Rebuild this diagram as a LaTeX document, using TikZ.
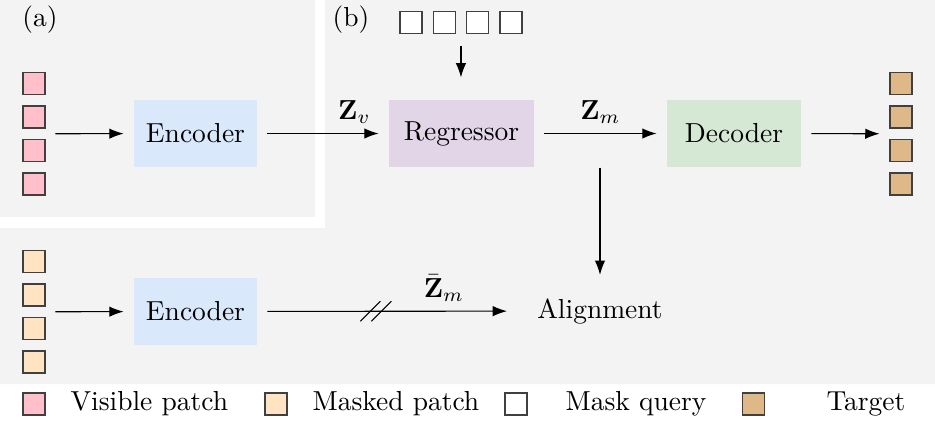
\documentclass[tikz,border=0pt]{standalone}
\usepackage{amsmath,amssymb,bm}
\usepackage{tikz}
\usetikzlibrary{arrows.meta,positioning,calc}
\definecolor{visiblepink}{HTML}{FFC0CB}
\definecolor{maskedbeige}{HTML}{FFE4C4}
\definecolor{targettan}{HTML}{DEB887}
\definecolor{encblue}{HTML}{DAE8FC}
\definecolor{regpurple}{HTML}{E1D5E7}
\definecolor{decgreen}{HTML}{D5E8D4}
\definecolor{panelgray}{HTML}{F3F3F3}

\begin{document}
\begin{tikzpicture}[x=0.3636pt,y=-0.3636pt,>={Latex[length=5.2pt,width=3.8pt]},
  patch/.style={draw=black!75,minimum size=8pt,inner sep=0pt},
  block/.style={minimum height=24.4pt,inner sep=0pt},
  link/.style={->,shorten <=3.6pt,shorten >=3.6pt}]
\useasboundingbox (0,0) rectangle (935,422);
% panels
\fill[panelgray] (0,0) rectangle (315,217);
\fill[panelgray] (325,0) -- (935,0) -- (935,384) -- (0,384) -- (0,228) -- (325,228) -- cycle;
\node (laba) at (40,20) {(a)};
\node (labb) at (351,20) {(b)};
% patches
\foreach \i/\y in {1/83.5,2/117,3/150.5,4/184} {
  \node[patch,fill=visiblepink] (vis\i) at (34,\y) {};
  \node[patch,fill=targettan] (tgt\i) at (901,\y) {};
  \node[patch,fill=maskedbeige] (msk\i) at (34,\y+178) {};
}
\foreach \i/\x in {1/411,2/444.3,3/477.6,4/511}
  \node[patch,fill=white] (qry\i) at (\x,22.5) {};
% blocks
\node[block,fill=encblue,minimum width=44.7pt] (enca) at (195.5,133.5) {Encoder};
\node[block,fill=regpurple,minimum width=52.7pt] (reg) at (461.5,133.5) {Regressor};
\node[block,fill=decgreen,minimum width=48.7pt] (dec) at (734,133.5) {Decoder};
\node[block,fill=encblue,minimum width=44.7pt] (encb) at (195.5,311.5) {Encoder};
\node (align) at (600,311) {Alignment};
% connectors
\coordinate (visin) at ($(vis2.east)!0.5!(vis3.east)$);
\coordinate (tgtin) at ($(tgt2.west)!0.5!(tgt3.west)$);
\coordinate (mskin) at ($(msk2.east)!0.5!(msk3.east)$);
\coordinate (qryout) at ($(qry2.south)!0.5!(qry3.south)$);
\draw[link] (visin) -- (enca);
\draw[link] (enca) -- node[above,pos=0.74] {$\mathbf{Z}_v$} (reg);
\draw[link] (reg) -- node[above] {$\mathbf{Z}_m$} (dec);
\draw[link] (dec) -- (tgtin);
\draw[->,shorten <=4.2pt,shorten >=8pt] (qryout) -- (qryout |- reg.north);
\draw[->,shorten >=5pt] (reg.south -| align) -- (align);
\draw[link] (mskin) -- (encb);
\draw[link,shorten >=7.5pt] (encb) -- node[above,pos=0.69] {$\bar{\mathbf{Z}}_m$} coordinate[pos=0.44] (cut) (align);
\draw ([shift={(-16,10)}]cut) -- ++(20,-20);
\draw ([shift={(-5,10)}]cut) -- ++(20,-20);
% legend
\node[patch,fill=visiblepink] (legvis) at (34,404) {};
\node[anchor=west,inner sep=0pt] (legvistxt) at (70,404) {Visible patch};
\node[patch,fill=maskedbeige] (legmsk) at (276,404) {};
\node[anchor=west,inner sep=0pt] (legmsktxt) at (312,404) {Masked patch};
\node[patch,fill=white] (legqry) at (516,404) {};
\node[anchor=west,inner sep=0pt] (legqrytxt) at (565,404) {Mask query};
\node[patch,fill=targettan] (legtgt) at (753.5,404) {};
\node[anchor=west,inner sep=0pt] (legtgttxt) at (826,404) {Target};
\end{tikzpicture}
\end{document}
